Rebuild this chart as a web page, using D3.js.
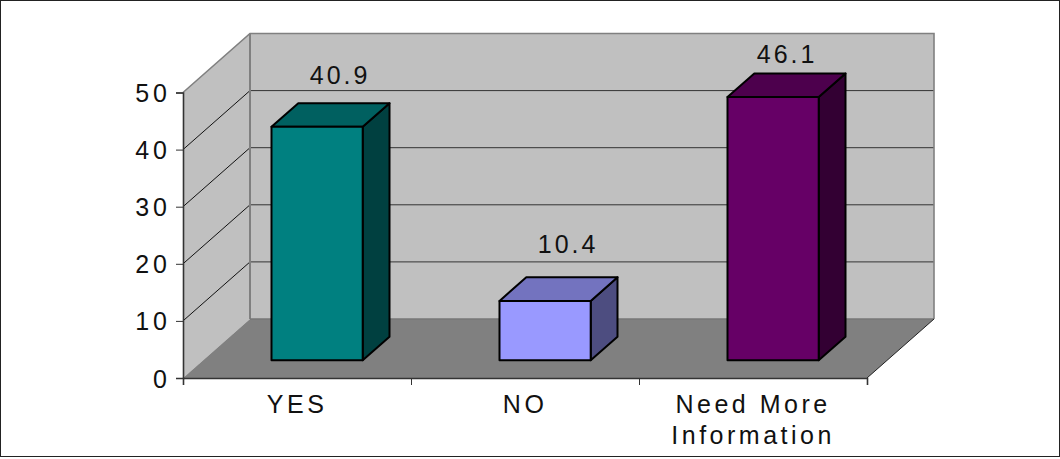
<!DOCTYPE html>
<html>
<head>
<meta charset="utf-8">
<script src="https://cdn.jsdelivr.net/npm/d3@7"></script>
<style>
  html, body { margin: 0; padding: 0; background: #fff; }
  svg { display: block; }
  text { font-family: "Liberation Sans", Arial, sans-serif; fill: #111; }
</style>
</head>
<body>
<div id="chart"></div>
<script>
// values
var categories = ["YES", "NO", "Need More|Information"];
var values = [40.9, 10.4, 46.1];
var yTicks = [0, 10, 20, 30, 40, 50];
var frontColors = ["#008080", "#9999ff", "#660066"];
var topColors = ["#006060", "#7373bf", "#4d004d"];
var sideColors = ["#004040", "#4d4d80", "#330033"];

var width = 1060;
var height = 459;

// 3d look: everything is the front plane shifted by a depth fraction
var depthX = 67;
var depthY = -59;
var barFront = 0.3;    // bars stand this far back on the floor
var barDepth = 0.4;

var svg = d3.select("#chart").append("svg")
  .attr("width", width)
  .attr("height", height);

var x = d3.scaleBand()
  .domain(d3.range(categories.length))
  .range([183, 867])
  .paddingInner(0.6)
  .paddingOuter(0.3);

var xEdges = d3.scaleLinear().domain([0, 3]).range([183, 867]);

var y = d3.scaleLinear().domain([0, 50]).range([378, 92.5]);

function pts(list) {
  return list.map(function(p) { return p.join(","); }).join(" ");
}

// outer frame
svg.append("rect")
  .attr("x", 0.5).attr("y", 0.5)
  .attr("width", width - 1).attr("height", height - 3)
  .attr("fill", "#fff")
  .attr("stroke", "#222");

var x0 = xEdges(0), x1 = xEdges(3), y0 = y(0), yTop = y(50);

// side wall, back wall, floor
svg.append("polygon")
  .attr("points", pts([[x0, yTop], [x0 + depthX, yTop + depthY], [x0 + depthX, y0 + depthY], [x0, y0]]))
  .attr("fill", "#c0c0c0");
svg.append("rect")
  .attr("x", x0 + depthX).attr("y", yTop + depthY)
  .attr("width", x1 - x0).attr("height", y0 - yTop)
  .attr("fill", "#c0c0c0");
svg.append("polygon")
  .attr("points", pts([[x0, y0], [x0 + depthX, y0 + depthY], [x1 + depthX, y0 + depthY], [x1, y0]]))
  .attr("fill", "#808080");

// gridlines on both walls
var gridValues = yTicks.slice(1, 5);
svg.selectAll("line.gridBack")
  .data(gridValues)
  .enter().append("line")
  .attr("class", "gridBack")
  .attr("x1", x0 + depthX).attr("x2", x1 + depthX)
  .attr("y1", function(d) { return y(d) + depthY; })
  .attr("y2", function(d) { return y(d) + depthY; })
  .attr("stroke", "#333").attr("stroke-width", 1);
svg.selectAll("line.gridSide")
  .data(gridValues)
  .enter().append("line")
  .attr("class", "gridSide")
  .attr("x1", x0).attr("x2", x0 + depthX)
  .attr("y1", function(d) { return y(d); })
  .attr("y2", function(d) { return y(d) + depthY; })
  .attr("stroke", "#111").attr("stroke-width", 1);

// wall edges
var edgeColor = "#808080";
svg.append("polyline")
  .attr("points", pts([[x0, yTop], [x0 + depthX, yTop + depthY], [x1 + depthX, yTop + depthY], [x1 + depthX, y0 + depthY]]))
  .attr("fill", "none").attr("stroke", edgeColor).attr("stroke-width", 1.6);
svg.append("line")
  .attr("x1", x0 + depthX).attr("x2", x0 + depthX)
  .attr("y1", yTop + depthY).attr("y2", y0 + depthY)
  .attr("stroke", edgeColor).attr("stroke-width", 2);
svg.append("line")
  .attr("x1", x0 + depthX).attr("x2", x1 + depthX)
  .attr("y1", y0 + depthY).attr("y2", y0 + depthY)
  .attr("stroke", "#777").attr("stroke-width", 1.5);
svg.append("line")
  .attr("x1", x1).attr("x2", x1 + depthX)
  .attr("y1", y0).attr("y2", y0 + depthY)
  .attr("stroke", "#222").attr("stroke-width", 1);

// bars
var floorY = y0 + depthY * barFront;   // base of the front face
var valueY = function(v) { return y(v) + depthY * barFront; };
var offX = depthX * barFront;
var dx = depthX * barDepth, dy = depthY * barDepth;

var bars = svg.selectAll("g.bar")
  .data(values)
  .enter().append("g")
  .attr("class", "bar");

function barStyle(sel) {
  return sel.attr("stroke", "#000").attr("stroke-width", 2).attr("stroke-linejoin", "round");
}

barStyle(bars.append("polygon"))
  .attr("fill", function(d, i) { return sideColors[i]; })
  .attr("points", function(d, i) {
    var r = x(i) + x.bandwidth() + offX;
    return pts([[r, floorY], [r + dx, floorY + dy], [r + dx, valueY(d) + dy], [r, valueY(d)]]);
  });
barStyle(bars.append("polygon"))
  .attr("fill", function(d, i) { return topColors[i]; })
  .attr("points", function(d, i) {
    var l = x(i) + offX, r = l + x.bandwidth();
    return pts([[l, valueY(d)], [l + dx, valueY(d) + dy], [r + dx, valueY(d) + dy], [r, valueY(d)]]);
  });
barStyle(bars.append("rect"))
  .attr("fill", function(d, i) { return frontColors[i]; })
  .attr("x", function(d, i) { return x(i) + offX; })
  .attr("y", function(d) { return valueY(d); })
  .attr("width", x.bandwidth())
  .attr("height", function(d) { return floorY - valueY(d); });

// value labels, nudged one by one as in the original
var valueShiftX = [23, 23, 14];
var valueShiftY = [-19, -24, -10];
svg.selectAll("text.value")
  .data(values)
  .enter().append("text")
  .attr("class", "value")
  .attr("x", function(d, i) { return x(i) + offX + x.bandwidth() / 2 + valueShiftX[i]; })
  .attr("y", function(d, i) { return valueY(d) + dy + valueShiftY[i]; })
  .attr("text-anchor", "middle")
  .style("font-size", "25px")
  .style("letter-spacing", "3px")
  .text(function(d) { return d.toFixed(1); });

// axes
var yAxis = d3.axisLeft(y).tickValues(yTicks).tickSize(7).tickPadding(5);
var gy = svg.append("g").attr("transform", "translate(" + x0 + ",0)").call(yAxis);
gy.selectAll("text")
  .attr("y", 1)
  .style("font-size", "25px")
  .style("letter-spacing", "4px")
  .attr("fill", "#111");

var xAxis = d3.axisBottom(xEdges).tickValues([0, 1, 2, 3]).tickSize(7).tickFormat("");
var gx = svg.append("g").attr("transform", "translate(0," + y0 + ")").call(xAxis);

svg.selectAll(".domain").attr("stroke", "#333").attr("stroke-width", 1.6);
svg.selectAll(".tick line").attr("stroke", "#333").attr("stroke-width", 1);

// category labels, "|" is the line break
var catShift = [-20, -20, -20];
svg.selectAll("text.cat")
  .data(categories)
  .enter().append("text")
  .attr("class", "cat")
  .attr("text-anchor", "middle")
  .style("font-size", "25px")
  .style("letter-spacing", "3.5px")
  .each(function(d, i) {
    var cx = x(i) + x.bandwidth() / 2 + offX + catShift[i];
    d3.select(this).selectAll("tspan")
      .data(d.split("|"))
      .enter().append("tspan")
      .attr("x", cx)
      .attr("y", function(t, j) { return 413 + j * 31; })
      .text(function(t) { return t; });
  });
</script>
</body>
</html>
